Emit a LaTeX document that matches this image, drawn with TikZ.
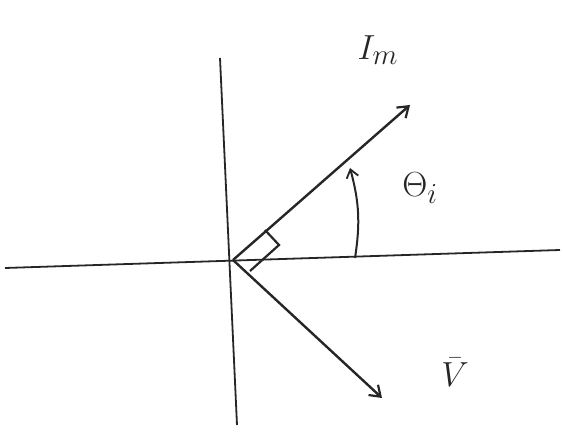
\documentclass[tikz,border=0pt]{standalone}
\usetikzlibrary{arrows.meta}
\begin{document}
\begin{tikzpicture}[x=1pt,y=-1pt,
  axis/.style={line width=1.8pt,black!85},
  phasor/.style={line width=2.4pt,black!85,-{Straight Barb[length=10pt,width=14pt,line width=2.2pt]}},
  lbl/.style={font=\Huge,black!85}]
\useasboundingbox (0,0) rectangle (563,435);
\coordinate (xl) at (5,268);
\coordinate (xr) at (560,250);
\coordinate (yt) at (220,58);
\coordinate (yb) at (237,425);
\coordinate (o) at (233,260);
\coordinate (im) at (410,105);
\coordinate (v) at (382,398);
\draw[axis] (xl) -- (xr);
\draw[axis] (yt) -- (yb);
\draw[phasor] (o) -- (im);
\draw[phasor] (o) -- (v);
% right-angle marker
\coordinate (ra) at (265,230);
\coordinate (rc) at (279,245);
\coordinate (rb) at (250,271);
\draw[line width=2.2pt,black!85] (ra) -- (rc) -- (rb);
% angle arc
\coordinate (a0) at (355,258);
\coordinate (a1) at (350,168);
\draw[line width=2pt,black!85,-{Straight Barb[length=8pt,width=12pt,line width=1.8pt]}] (a0) to[bend right=12] (a1);
\node[lbl] (lim) at (378,50) {\scalebox{1.4}{$I_m$}};
\node[lbl] (lth) at (420,188) {\scalebox{1.4}{$\Theta_i$}};
\node[lbl] (lv) at (455,372) {\scalebox{1.4}{$\bar{V}$}};
\end{tikzpicture}
\end{document}
